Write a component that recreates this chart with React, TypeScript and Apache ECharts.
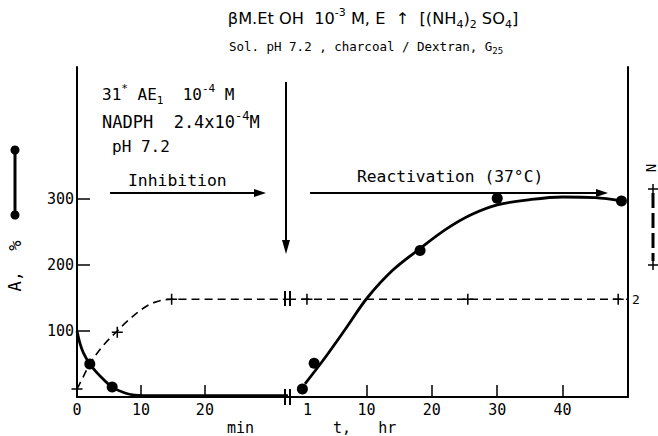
import React, { useEffect, useRef } from "react";
import * as echarts from "echarts";

// ---- data ----
// left segment: time in minutes (inhibition)
const minTickValues = [10, 20];
const minLabelValues = [0, 10, 20];
const activityCurveMinX = [0, 0.5, 1, 2, 3, 4, 5.5, 7.5, 9, 12, 33];
const activityCurveMinY = [100, 80, 67, 50, 38, 28, 15, 6, 3, 2, 2];
const activityDotsMinX = [2, 5.5];
const activityDotsMinY = [50, 15];
const curve2MinX = [0, 1, 2, 4, 6.3, 8, 10, 12, 14.8, 33];
const curve2MinY = [12, 31, 50, 77, 100, 116, 132, 143, 148, 148];
const crossesMinX = [0, 6.3, 14.8];
const crossesMinY = [12, 98, 148];

// right segment: time in hours (reactivation)
const hrTickValues = [10, 20, 30, 40];
const hrLabelValues = [1, 10, 20, 30, 40];
const activityCurveHrX = [0.6, 3.4, 7, 10.1, 14, 18.2, 22.3, 26, 30, 35, 40, 45, 49];
const activityCurveHrY = [20, 56, 106, 150, 192, 225, 255, 276, 291, 299, 303, 302, 297];
const activityDotsHrX = [0.2, 2, 18.2, 30, 49];
const activityDotsHrY = [12, 51, 222, 301, 297];
const curve2HrX = [-2, 0.9, 25.5, 48.5, 50];
const curve2HrY = [148, 148, 148, 148, 148];
const crossesHrX = [0.9, 25.5, 48.5];
const crossesHrY = [148, 148, 148];

const yTickValues = [100, 200, 300];

const zip = (xs: number[], ys: number[]) => xs.map((x, i) => [x, ys[i]]);

const MONO = '"DejaVu Sans Mono", monospace';
const SANS = '"DejaVu Sans", sans-serif';
const INK = "#000";
const PLUS = "path://M0,4.3H10V5.7H0Z M4.3,0H5.7V10H4.3Z";

function txt(text: string, x: number, y: number, size: number, family = MONO, align = "left", rotation = 0) {
  const small = Math.round(size * 0.68);
  return {
    type: "text",
    x,
    y,
    rotation,
    style: {
      text,
      fill: INK,
      fontSize: size,
      fontFamily: family,
      lineHeight: Math.round(size * 1.45),
      textAlign: align,
      align,
      textVerticalAlign: "middle",
      verticalAlign: "middle",
      rich: {
        s: { fontSize: small, fontFamily: family, fill: INK, color: INK, verticalAlign: "top", lineHeight: small },
        b: { fontSize: small, fontFamily: family, fill: INK, color: INK, verticalAlign: "bottom", lineHeight: small },
      },
    },
  };
}
function ln(x1: number, y1: number, x2: number, y2: number, w = 2, dash?: number[]) {
  return {
    type: "line",
    shape: { x1, y1, x2, y2 },
    style: { stroke: INK, lineWidth: w, lineDash: dash },
  };
}
function head(points: number[][]) {
  return { type: "polygon", shape: { points }, style: { fill: INK } };
}

export default function App() {
  const ref = useRef<HTMLDivElement>(null);
  useEffect(() => {
    document.body.style.margin = "0";
    const chart = echarts.init(ref.current!, null, { renderer: "svg" });
    const axisLabel = (vals: number[]) => ({
      customValues: vals,
      color: INK,
      fontFamily: MONO,
      fontSize: 15,
      margin: 5,
    });
    const dot = { color: INK, opacity: 1 };
    chart.setOption({
      animation: false,
      backgroundColor: "#fff",
      grid: [
        { left: 77, top: 67, width: 211, height: 330 },
        { left: 288, top: 67, width: 340, height: 330 },
      ],
      xAxis: [
        {
          gridIndex: 0, type: "value", min: 0, max: 33,
          axisLine: { show: true, onZero: false, lineStyle: { color: INK, width: 2 } },
          axisTick: { show: true, inside: true, length: 12, customValues: minTickValues, lineStyle: { color: INK, width: 1.5 } },
          axisLabel: axisLabel(minLabelValues),
          splitLine: { show: false },
        },
        {
          gridIndex: 1, type: "value", min: -2, max: 50,
          axisLine: { show: true, onZero: false, lineStyle: { color: INK, width: 2 } },
          axisTick: { show: true, inside: true, length: 12, customValues: hrTickValues, lineStyle: { color: INK, width: 1.5 } },
          axisLabel: axisLabel(hrLabelValues),
          splitLine: { show: false },
        },
      ],
      yAxis: [
        {
          gridIndex: 0, type: "value", min: 0, max: 500,
          axisLine: { show: true, onZero: false, lineStyle: { color: INK, width: 2 } },
          axisTick: { show: true, inside: true, length: 13, customValues: yTickValues, lineStyle: { color: INK, width: 1.5 } },
          axisLabel: { customValues: yTickValues, color: INK, fontFamily: MONO, fontSize: 15, margin: 3 },
          splitLine: { show: false },
        },
        {
          gridIndex: 1, type: "value", min: 0, max: 500, position: "right",
          axisLine: { show: true, onZero: false, lineStyle: { color: INK, width: 2 } },
          axisTick: { show: false },
          axisLabel: { show: false },
          splitLine: { show: false },
        },
      ],
      series: [
        {
          type: "line", xAxisIndex: 0, yAxisIndex: 0, data: zip(activityCurveMinX, activityCurveMinY),
          smooth: 0.35, showSymbol: false, lineStyle: { color: INK, width: 2.8 },
        },
        {
          type: "line", xAxisIndex: 1, yAxisIndex: 1, data: zip(activityCurveHrX, activityCurveHrY),
          smooth: 0.35, showSymbol: false, lineStyle: { color: INK, width: 2.8 },
        },
        {
          type: "line", xAxisIndex: 0, yAxisIndex: 0, data: zip(curve2MinX, curve2MinY),
          smooth: 0.35, showSymbol: false, lineStyle: { color: INK, width: 1.6, type: [8, 5] },
        },
        {
          type: "line", xAxisIndex: 1, yAxisIndex: 1, data: zip(curve2HrX, curve2HrY),
          showSymbol: false, lineStyle: { color: INK, width: 1.6, type: [8, 5] },
          endLabel: { show: true, formatter: "2", color: INK, fontFamily: MONO, fontSize: 13, distance: 4 },
        },
        {
          type: "scatter", xAxisIndex: 0, yAxisIndex: 0, data: zip(activityDotsMinX, activityDotsMinY),
          symbol: "circle", symbolSize: 11, itemStyle: dot,
        },
        {
          type: "scatter", xAxisIndex: 1, yAxisIndex: 1, data: zip(activityDotsHrX, activityDotsHrY),
          symbol: "circle", symbolSize: 11, itemStyle: dot,
        },
        {
          type: "scatter", xAxisIndex: 0, yAxisIndex: 0, data: zip(crossesMinX, crossesMinY),
          symbol: PLUS, symbolSize: 11, itemStyle: dot,
        },
        {
          type: "scatter", xAxisIndex: 1, yAxisIndex: 1, data: zip(crossesHrX, crossesHrY),
          symbol: PLUS, symbolSize: 11, itemStyle: dot,
        },
      ],
      graphic: [
        // titles
        txt("βM.Et OH  10{s|-3} M, E  ↑  [(NH{b|4}){b|2} SO{b|4}]", 373, 18, 16.2, SANS, "center"),
        txt("Sol. pH 7.2 , charcoal / Dextran, G{b|25}", 366, 46, 12.5, MONO, "center"),
        // annotations
        txt("31{s|*} AE{b|1}  10{s|-4} M", 102, 94, 16),
        txt("NADPH  2.4x10{s|-4}M", 102, 122, 17),
        txt("pH 7.2", 112, 146, 16),
        txt("Inhibition", 128, 180, 16.4),
        txt("Reactivation (37°C)", 357, 176, 16.3),
        // arrows
        ln(110, 193, 258, 193, 2),
        head([[266, 193], [254, 189], [254, 197]]),
        ln(310, 193, 600, 193, 2),
        head([[608, 193], [596, 189], [596, 197]]),
        ln(286, 82, 286, 244, 2),
        head([[286, 254], [282, 240], [290, 240]]),
        // axis names
        txt("min", 227, 428, 15),
        txt("t,   hr", 333, 428, 15),
        // break marks
        ln(285, 389, 285, 405, 2),
        ln(290, 389, 290, 405, 2),
        ln(285, 291, 285, 306, 2),
        ln(290, 291, 290, 306, 2),
        // left legend / axis name
        txt("A,  %", 15, 266, 17, MONO, "center", Math.PI / 2),
        ln(15, 150, 15, 215, 3),
        { type: "circle", shape: { cx: 15, cy: 150, r: 4.5 }, style: { fill: INK } },
        { type: "circle", shape: { cx: 15, cy: 215, r: 4.5 }, style: { fill: INK } },
        // right legend / axis name
        txt("N", 651, 168, 14, MONO, "center", Math.PI / 2),
        ln(653, 193, 653, 261, 3, [15, 5]),
        ln(648, 189, 658, 189, 1.5),
        ln(653, 184, 653, 194, 1.5),
        ln(648, 265, 658, 265, 1.5),
        ln(653, 260, 653, 270, 1.5),
      ],
    });
    return () => chart.dispose();
  }, []);
  return <div ref={ref} style={{ width: 658, height: 436 }} />;
}
